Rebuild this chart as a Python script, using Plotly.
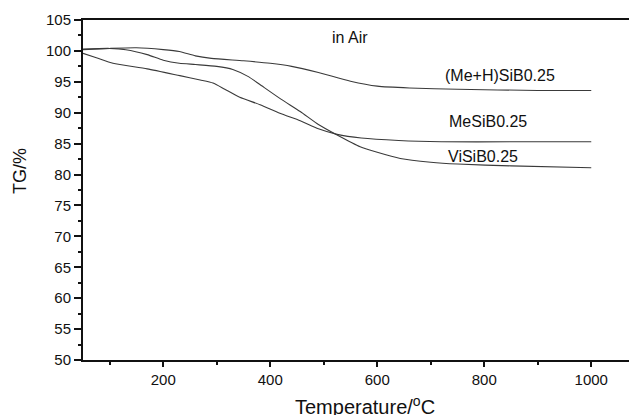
import plotly.graph_objects as go

# (Me+H)SiB0.25
t_meh = [50, 100, 150, 200, 230, 260, 290, 350, 400, 440, 490, 550, 600, 660, 750, 900, 1000]
v_meh = [100.2, 100.4, 100.5, 100.2, 99.9, 99.2, 98.8, 98.4, 98.0, 97.5, 96.5, 95.1, 94.3, 94.0, 93.8, 93.6, 93.6]

# ViSiB0.25
t_vi = [50, 100, 130, 170, 200, 230, 260, 300, 330, 360, 380, 420, 456, 490, 525, 568, 600, 643, 700, 750, 850, 1000]
v_vi = [100.3, 100.4, 100.2, 99.4, 98.5, 98.0, 97.8, 97.5, 97.0, 95.8, 94.6, 92.2, 90.2, 88.1, 86.4, 84.5, 83.6, 82.6, 82.0, 81.7, 81.4, 81.1]

# MeSiB0.25
t_me = [50, 75, 106, 170, 231, 269, 293, 315, 343, 381, 418, 456, 490, 525, 570, 640, 720, 850, 1000]
v_me = [99.6, 98.9, 98.0, 97.1, 96.0, 95.3, 94.8, 93.8, 92.5, 91.3, 89.9, 88.7, 87.4, 86.5, 85.9, 85.5, 85.3, 85.3, 85.3]

labels = ["(Me+H)SiB0.25", "MeSiB0.25", "ViSiB0.25"]
label_x = [829, 807, 798]
label_y = [96.1, 88.55, 82.9]

FONT = "Liberation Sans, Arial, sans-serif"
LC = "#3a3a3a"

# plot area in page pixels: left 83, top 20, bottom 360, right 637 (page has an 8px body margin)
PW, PH = 554, 340

fig = go.Figure()
for t, v, name in [(t_meh, v_meh, labels[0]), (t_me, v_me, labels[1]), (t_vi, v_vi, labels[2])]:
    fig.add_trace(go.Scatter(x=t, y=v, mode="lines", name=name,
                             line=dict(color=LC, width=1.1, shape="spline", smoothing=0.6)))

for txt, x, y in zip(labels, label_x, label_y):
    fig.add_annotation(x=x, y=y, text=txt, showarrow=False, xanchor="center", yanchor="middle",
                       font=dict(family=FONT, size=16, color="#111"))
fig.add_annotation(x=549, y=102.1, text="in Air", showarrow=False, xanchor="center", yanchor="middle",
                   font=dict(family=FONT, size=16, color="#111"))

fig.add_annotation(xref="paper", yref="paper", x=(365 - 83) / PW, y=-(405 - 360) / PH,
                   text="Temperature/<sup>o</sup>C", showarrow=False, xanchor="center", yanchor="middle",
                   font=dict(family=FONT, size=20, color="#111"))
fig.add_annotation(xref="paper", yref="paper", x=-(83 - 20) / PW, y=(360 - 171) / PH,
                   text="TG/%", textangle=-90, showarrow=False, xanchor="center", yanchor="middle",
                   font=dict(family=FONT, size=18, color="#111"))

fig.update_layout(
    width=629, height=407,
    margin=dict(l=75, r=0, t=12, b=55, autoexpand=False),
    paper_bgcolor="white", plot_bgcolor="white",
    showlegend=False,
    font=dict(family=FONT, size=15, color="#111"),
)
fig.update_xaxes(range=[50, 50 + PW / 0.535], tickvals=[200, 400, 600, 800, 1000],
                 ticks="outside", ticklen=5, tickwidth=1.5, tickcolor="#111",
                 showline=True, linewidth=2, linecolor="#111", mirror=True,
                 showgrid=False, zeroline=False,
                 minor=dict(ticks="outside", ticklen=3, tickvals=[100, 300, 500, 700, 900], tickcolor="#111"),
                 tickfont=dict(family=FONT, size=15))
fig.update_yaxes(range=[50, 105], tick0=50, dtick=5,
                 ticks="outside", ticklen=7, tickwidth=1.5, tickcolor="#111",
                 showline=True, linewidth=2, linecolor="#111", mirror=False,
                 showgrid=False, zeroline=False,
                 minor=dict(ticks="outside", ticklen=3, dtick=2.5, tick0=50, tickcolor="#111"),
                 tickfont=dict(family=FONT, size=15))

fig.write_html("out.html")
